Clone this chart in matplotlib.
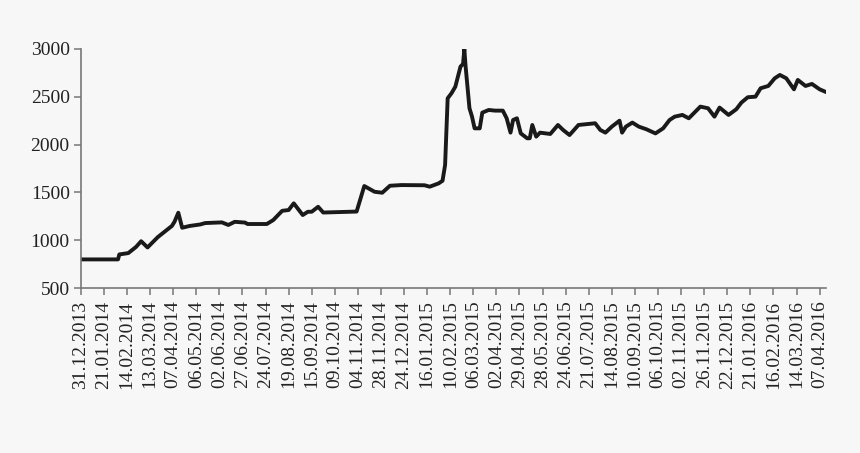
import matplotlib
matplotlib.use("Agg")
import matplotlib.pyplot as plt

# trading-day index (0 = 31.12.2013) and price
DAY = [0, 29, 30, 37, 43, 47, 52, 60, 71, 73, 76, 79, 85, 93, 97,
       110, 115, 120, 128, 130, 145, 150, 157, 162, 166, 173, 177, 180,
       185, 189, 215, 221, 229, 235, 241, 250, 268, 272, 279, 282, 284,
       286, 289, 292, 296, 298, 299, 300, 303, 305, 307, 311, 313, 318,
       323, 329, 332, 335, 337, 340, 343, 348, 350, 352, 355, 358, 366,
       372, 376, 381, 388, 401, 405, 409, 414, 420, 422, 425, 430, 435,
       441, 448, 454, 459, 463, 469, 474, 483, 489, 494, 498, 505, 511,
       515, 520, 526, 530, 536, 541, 545, 550, 556, 559, 565, 570, 576, 580]
PRICE = [800, 800, 852, 866, 930, 990, 925, 1033, 1150, 1193, 1288, 1131, 1150, 1165, 1180,
         1187, 1160, 1193, 1185, 1170, 1170, 1211, 1308, 1316, 1386, 1264, 1298, 1298,
         1350, 1290, 1300, 1567, 1507, 1497, 1570, 1577, 1575, 1560, 1595, 1622, 1787,
         2484, 2537, 2606, 2815, 2843, 2997, 2815, 2380, 2292, 2170, 2170, 2334, 2362,
         2355, 2355, 2275, 2125, 2257, 2275, 2117, 2066, 2066, 2205, 2083, 2125, 2111,
         2205, 2153, 2100, 2205, 2223, 2153, 2125, 2188, 2250, 2125, 2188, 2230, 2188,
         2160, 2117, 2170, 2257, 2292, 2310, 2275, 2397, 2380, 2292, 2387, 2310, 2369,
         2439, 2495, 2501, 2589, 2613, 2693, 2728, 2693, 2578, 2676, 2613, 2634, 2578, 2555]

TICK_LABELS = ["31.12.2013", "21.01.2014", "14.02.2014", "13.03.2014", "07.04.2014",
               "06.05.2014", "02.06.2014", "27.06.2014", "24.07.2014", "19.08.2014",
               "15.09.2014", "09.10.2014", "04.11.2014", "28.11.2014", "24.12.2014",
               "16.01.2015", "10.02.2015", "06.03.2015", "02.04.2015", "29.04.2015",
               "28.05.2015", "24.06.2015", "21.07.2015", "14.08.2015", "10.09.2015",
               "06.10.2015", "02.11.2015", "26.11.2015", "22.12.2015", "21.01.2016",
               "16.02.2016", "14.03.2016", "07.04.2016"]
TICK_STEP = 18
Y_TICKS = [500, 1000, 1500, 2000, 2500, 3000]

plt.rcParams["font.family"] = ["Liberation Serif", "DejaVu Serif"]

BG = "#f7f7f7"
fig = plt.figure(figsize=(8.6, 4.53), dpi=100, facecolor=BG)
ax = fig.add_axes([0.094, 0.364, 0.8665, 0.528], facecolor=BG)

ax.plot(DAY, PRICE, color="#1a1a1a", linewidth=2.8, solid_joinstyle="round")

ax.set_xlim(0, 581)
ax.set_ylim(500, 3000)
ax.set_yticks(Y_TICKS)
ax.set_yticklabels([str(v) for v in Y_TICKS], fontsize=14, color="#222222")
ax.set_xticks([i * TICK_STEP for i in range(len(TICK_LABELS))])
ax.set_xticklabels(TICK_LABELS, rotation=90, fontsize=14, color="#222222")

for side in ("top", "right"):
    ax.spines[side].set_visible(False)
for side in ("left", "bottom"):
    ax.spines[side].set_color("#777777")
    ax.spines[side].set_linewidth(1.2)
ax.tick_params(axis="both", direction="out", length=5, width=1.1, color="#777777")
ax.tick_params(axis="x", pad=4)
ax.tick_params(axis="y", pad=3)

fig.savefig("out.png", dpi=100, facecolor=BG)
